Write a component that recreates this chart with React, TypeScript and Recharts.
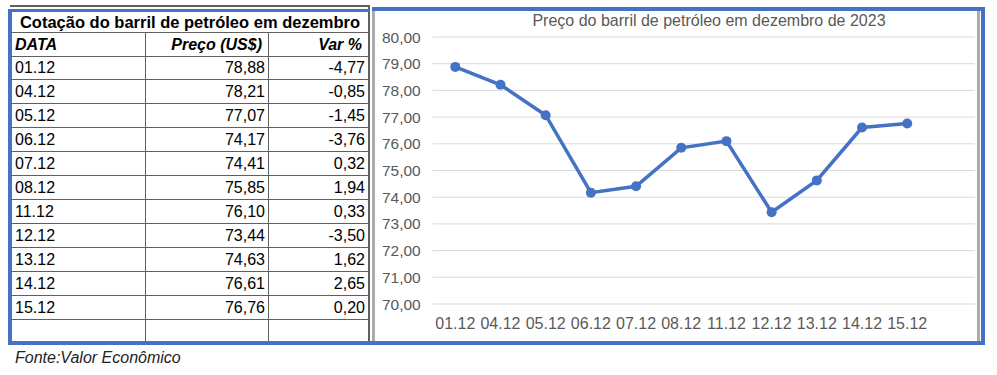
import React from 'react';
import { LineChart, Line, XAxis, YAxis, CartesianGrid } from 'recharts';

const dates = ['01.12', '04.12', '05.12', '06.12', '07.12', '08.12', '11.12', '12.12', '13.12', '14.12', '15.12'];
const prices = [78.88, 78.21, 77.07, 74.17, 74.41, 75.85, 76.1, 73.44, 74.63, 76.61, 76.76];
const changes = [-4.77, -0.85, -1.45, -3.76, 0.32, 1.94, 0.33, -3.5, 1.62, 2.65, 0.2];
const yTicks = [70, 71, 72, 73, 74, 75, 76, 77, 78, 79, 80];

const blue = '#4472C4';
const gridGray = '#5f5f5f';
const font = '"Liberation Sans", Arial, sans-serif';

const fmt = (v: number) => v.toFixed(2).replace('.', ',');

// the chart range in the sheet includes the blank row under 15.12
const chartData = [
  ...dates.map((d, i) => ({ name: d, preco: prices[i] })),
  { name: '', preco: null },
];

const box = (left: number, top: number, width: number, height: number, bg: string): React.CSSProperties => ({
  position: 'absolute',
  left,
  top,
  width,
  height,
  background: bg,
});

const Cell: React.FC<{ left: number; width: number; align: 'left' | 'right'; style?: React.CSSProperties; children?: React.ReactNode }> = ({
  left,
  width,
  align,
  style,
  children,
}) => (
  <div
    style={{
      position: 'absolute',
      left,
      width,
      top: 0,
      bottom: 0,
      display: 'flex',
      alignItems: 'center',
      justifyContent: align === 'left' ? 'flex-start' : 'flex-end',
      paddingTop: 1,
      ...style,
    }}
  >
    {children}
  </div>
);

const PriceTable: React.FC = () => {
  const rowStyle = (top: number, height: number, border = true): React.CSSProperties => ({
    position: 'absolute',
    left: 12,
    width: 356,
    top,
    height,
    boxSizing: 'border-box',
    borderBottom: border ? `1px solid ${gridGray}` : 'none',
  });

  return (
    <>
      {/* title */}
      <div style={{ ...rowStyle(12, 21), display: 'flex', alignItems: 'center', justifyContent: 'center', fontWeight: 'bold', fontSize: 16.5 }}>
        Cotação do barril de petróleo em dezembro
      </div>
      {/* header */}
      <div style={{ ...rowStyle(33, 24), fontWeight: 'bold', fontStyle: 'italic', fontSize: 16 }}>
        <Cell left={3} width={120} align="left">DATA</Cell>
        <Cell left={133} width={117} align="right">Preço (US$)</Cell>
        <Cell left={256} width={94} align="right">Var %</Cell>
      </div>
      {dates.map((d, i) => (
        <div key={d} style={{ ...rowStyle(56 + 24 * i, 24), fontSize: 16 }}>
          <Cell left={3} width={120} align="left">{d}</Cell>
          <Cell left={133} width={120} align="right">{fmt(prices[i])}</Cell>
          <Cell left={256} width={97} align="right">{fmt(changes[i])}</Cell>
        </div>
      ))}
      {/* column lines */}
      <div style={box(145, 33, 1, 308, gridGray)} />
      <div style={box(268, 33, 1, 308, gridGray)} />
      <div style={box(368, 5, 2, 336, gridGray)} />
      <div style={box(10, 5, 360, 2, gridGray)} />
    </>
  );
};

const App: React.FC = () => (
  <div style={{ position: 'absolute', left: 0, top: 0, width: 997, height: 375, background: '#fff', fontFamily: font, color: '#000' }}>
    <PriceTable />

    {/* chart frame */}
    <div style={box(372, 11, 3, 330, '#ABABAB')} />
    <div style={box(977, 11, 3, 330, '#ABABAB')} />

    <div
      style={{
        position: 'absolute',
        left: 529,
        width: 360,
        top: 12,
        textAlign: 'center',
        fontSize: 16,
        color: '#595959',
        whiteSpace: 'nowrap',
      }}
    >
      Preço do barril de petróleo em dezembro de 2023
    </div>

    <div style={{ position: 'absolute', left: 375, top: 10 }}>
      <LineChart width={602} height={331} data={chartData} margin={{ top: 27, right: 2, left: 0, bottom: 0 }}>
        <CartesianGrid vertical={false} stroke="#D9D9D9" strokeWidth={1} />
        <XAxis
          dataKey="name"
          interval={0}
          axisLine={false}
          tickLine={false}
          height={37}
          tickMargin={8}
          padding={{ left: 22.6, right: 22.6 }}
          tick={{ fill: '#595959', fontSize: 16, fontFamily: font }}
        />
        <YAxis
          domain={[70, 80]}
          ticks={yTicks}
          width={57.7}
          axisLine={false}
          tickLine={false}
          tickMargin={6}
          tickFormatter={fmt}
          tick={{ fill: '#595959', fontSize: 15.5, fontFamily: font }}
        />
        <Line
          type="linear"
          dataKey="preco"
          stroke={blue}
          strokeWidth={3.5}
          dot={{ r: 5, fill: blue, stroke: blue, strokeWidth: 0 }}
          isAnimationActive={false}
        />
      </LineChart>
    </div>

    {/* blue outer frame */}
    <div style={box(8, 9, 4, 336, blue)} />
    <div style={box(8, 9, 362, 3, blue)} />
    <div style={box(372, 7, 613, 4, blue)} />
    <div style={box(981, 7, 4, 338, blue)} />
    <div style={box(8, 341, 977, 4, blue)} />

    <div style={{ position: 'absolute', left: 15, top: 349, fontSize: 16, fontStyle: 'italic', color: '#222' }}>
      Fonte:Valor Econômico
    </div>
  </div>
);

export default App;
